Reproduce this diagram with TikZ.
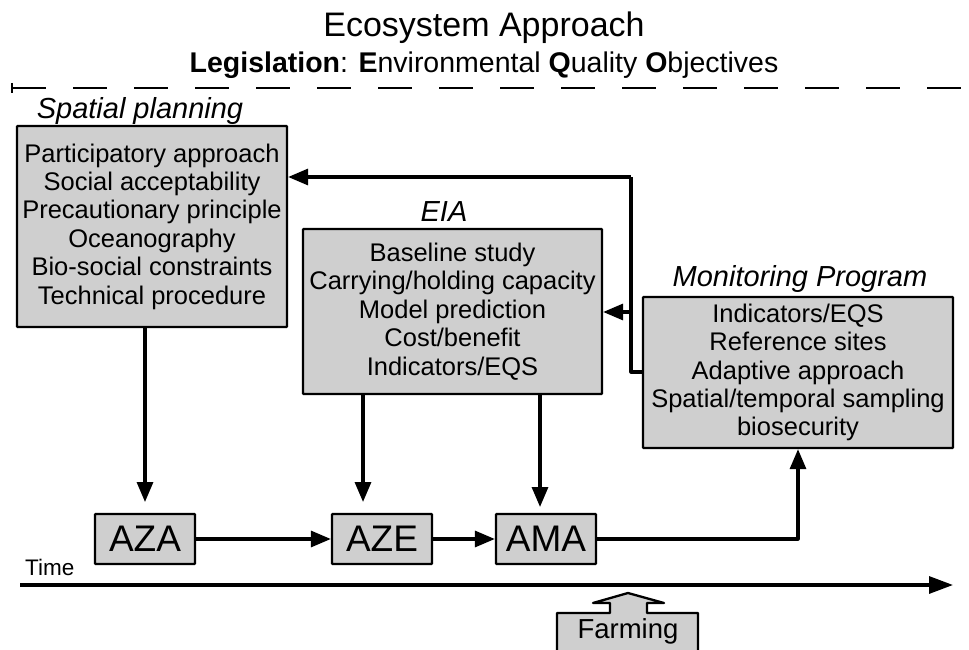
\documentclass[tikz,border=0pt]{standalone}
\usepackage{fontspec}
\setmainfont{Liberation Sans}
\usetikzlibrary{arrows.meta}
\definecolor{boxgray}{RGB}{207,207,207}
\tikzset{
  box/.style={draw=black, fill=boxgray, line width=2.3pt, rounded corners=0.8pt, inner sep=0pt, align=center,
    font=\fontsize{25.5}{28.4}\selectfont},
  smallbox/.style={draw=black, fill=boxgray, line width=2.3pt, rounded corners=0.8pt, inner sep=0pt,
    minimum width=100pt, minimum height=50pt, font=\fontsize{37}{40}\selectfont},
  boxlabel/.style={anchor=base, inner sep=0pt, font=\fontsize{29}{32}\selectfont\itshape},
  conn/.style={line width=3.2pt, line join=round},
  arr/.style={conn, -{Triangle[length=20pt,width=16pt]}},
}
\begin{document}
\begin{tikzpicture}[x=1pt,y=-1pt]
\clip (0,0) rectangle (969,650);
\fill[white] (0,0) rectangle (969,650);

% titles
\node[anchor=base, inner sep=0pt, font=\fontsize{34}{36}\selectfont] (title) at (484,37) {Ecosystem Approach};
\node[anchor=base, inner sep=0pt, font=\fontsize{28.5}{30}\selectfont] (sub) at (484,73)
  {\textbf{Legislation}: \textbf{E}nvironmental \textbf{Q}uality \textbf{O}bjectives};

% dashed legislation line
\coordinate (dl0) at (12,88);
\coordinate (dl1) at (975,88);
\draw[line width=2.6pt, dash pattern=on 34pt off 27pt] (dl0) -- (dl1);
\coordinate (tk0) at (12,83);
\coordinate (tk1) at (12,93);
\draw[line width=2.2pt] (tk0) -- (tk1);

% main boxes
\node[box, minimum width=270pt, minimum height=201pt] (sp) at (152,226.5)
  {Participatory approach\\Social acceptability\\Precautionary principle\\Oceanography\\Bio-social constraints\\Technical procedure};
\node[boxlabel] (spl) at (140,119) {Spatial planning};

\node[box, minimum width=299pt, minimum height=165pt] (eia) at (452.5,311.5)
  {Baseline study\\Carrying/holding capacity\\Model prediction\\Cost/benefit\\Indicators/EQS};
\node[boxlabel] (eial) at (444,221) {EIA};

\node[box, minimum width=310pt, minimum height=151pt] (mon) at (798,372.5)
  {Indicators/EQS\\Reference sites\\Adaptive approach\\Spatial/temporal sampling\\biosecurity};
\node[boxlabel] (monl) at (800,286) {Monitoring Program};

% small boxes
\node[smallbox] (aza) at (145,539) {AZA};
\node[smallbox] (aze) at (382,539) {AZE};
\node[smallbox] (ama) at (546,539) {AMA};

% vertical arrows into small boxes
\coordinate (azaT) at (145,502);
\coordinate (azeT) at (363,502);
\coordinate (amaT) at (540,507);
\draw[arr] (sp.south -| azaT) -- (azaT);
\draw[arr] (eia.south -| azeT) -- (azeT);
\draw[arr] (eia.south -| amaT) -- (amaT);

% horizontal chain
\draw[arr] (aza.east) -- (aze.west);
\draw[arr] (aze.east) -- (ama.west);
\coordinate (mc) at (798,539);
\draw[arr] (ama.east) -- (mc) -- (mon.south);

% feedback lines
\coordinate (fb0) at (643,372);
\coordinate (fb1) at (631,372);
\coordinate (fb2) at (631,177);
\coordinate (fb3) at (631,312);
\draw[conn] (fb0) -- (fb1) -- (fb2);
\draw[arr] (fb2) -- (fb2 -| sp.east);
\draw[arr] (fb3) -- (fb3 -| eia.east);

% time axis
\coordinate (t0) at (20,585);
\coordinate (t1) at (953,585);
\draw[line width=3.2pt, -{Triangle[length=24pt,width=17pt]}] (t0) -- (t1);
\node[anchor=base west, inner sep=0pt, font=\fontsize{22.5}{24}\selectfont] (time) at (25,575) {Time};

% farming block arrow
\draw[line width=2.3pt, fill=boxgray, line join=round]
  (557,660) -- (557,613) -- (610,613) -- (610,603) -- (593,603) -- (628,593) -- (664,603)
  -- (647,603) -- (647,613) -- (698,613) -- (698,660) -- cycle;
\node[anchor=base, inner sep=0pt, font=\fontsize{27.5}{30}\selectfont] (farm) at (628,638) {Farming};
\end{tikzpicture}
\end{document}
